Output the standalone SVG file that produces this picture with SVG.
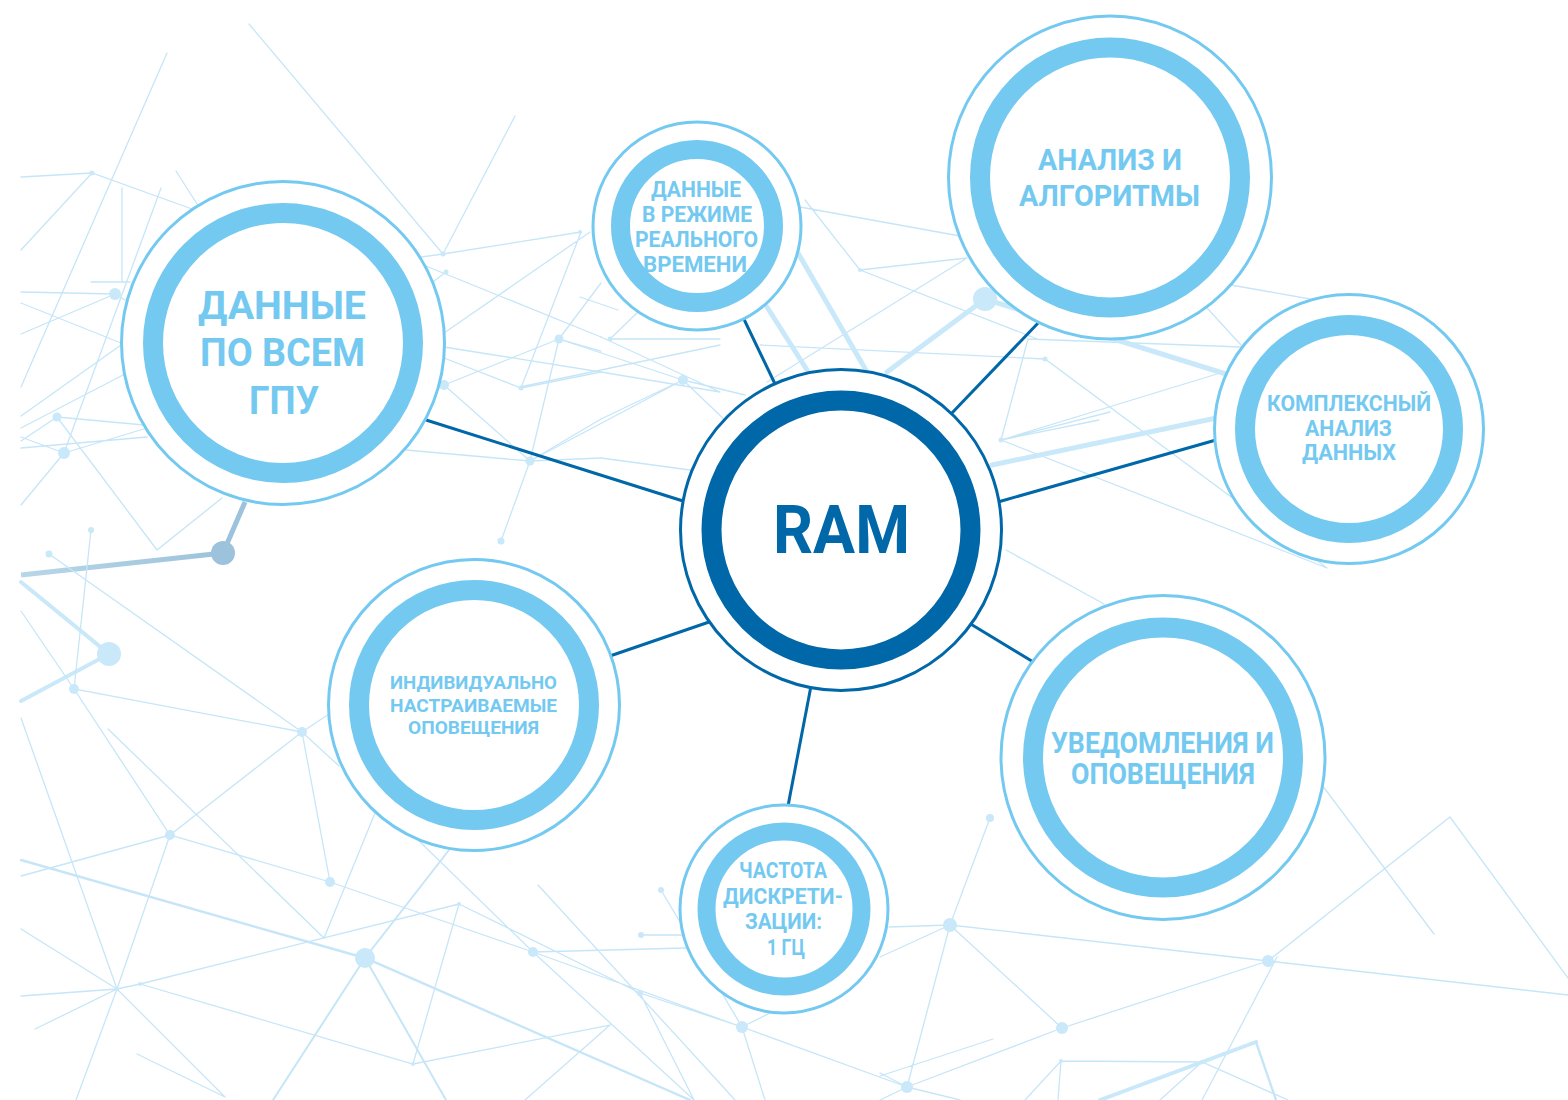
<svg xmlns="http://www.w3.org/2000/svg" width="1568" height="1100" viewBox="0 0 1568 1100">
<defs>
<style>
.bg{stroke:#C6E6F8;stroke-width:1.3;fill:none;stroke-linecap:round}
.bm{stroke:#C6E6F8;stroke-width:2.4;fill:none;stroke-linecap:round}
.bt{stroke:#C9E8F9;stroke-width:5;fill:none;stroke-linecap:round}
.dot{fill:#C9E8F9}
.conn{stroke:#0067A8;stroke-width:3;fill:none}
.outer{fill:#FFFFFF;stroke:#74C9F1;stroke-width:3}
.ring{fill:none;stroke:#74C9F1;stroke-width:20}
.douter{fill:#FFFFFF;stroke:#0067A8;stroke-width:3}
.dring{fill:none;stroke:#0067A8;stroke-width:20}
.lbl{font-family:Roboto,"DejaVu Sans",sans-serif;font-weight:700;fill:#74C9F1;text-anchor:start}
.ram{font-family:Roboto,"DejaVu Sans",sans-serif;font-weight:700;fill:#0067A8;text-anchor:start}
</style>
<linearGradient id="gb" x1="0" y1="0" x2="1" y2="0">
<stop offset="0" stop-color="#B9D6E8"/>
<stop offset="1" stop-color="#9CC3DB"/>
</linearGradient>
</defs>
<rect width="1568" height="1100" fill="#FFFFFF"/>

<g id="background">
<path class="bg" d="M249,24 L443,254 M515,116 L443,254 M443,254 L581,232 M421,257 L443,254"/>
<path class="bg" d="M21,177 L92,173 L192,209 M92,173 L21,250 M167,53 L21,387 M122,188 L122,282 M161,188 L64,453 M176,171 L199,207 M91,282 L130,282"/>
<path class="bg" d="M21,292 L115,294 L21,334 M115,294 L125,300 M21,303 L121,343 M21,416 L121,345 M21,428 L123,375 M57,417 L144,425 M57,417 L157,550 L222,498 M64,453 L147,428 M64,453 L21,505 M21,448 L147,437 M21,437 L64,453 M57,417 L21,441"/>
<path class="bg" d="M421,264 L601,337 M446,272 L421,291 M444,333 L590,232 M444,358 L521,388 L601,372 M444,385 L530,461 M444,385 L559,339 M406,450 L530,461 L601,458 M530,461 L501,541 M530,461 L601,419 M559,339 L601,283 M559,339 L601,351 M559,339 L530,461 M521,388 L581,232 M444,347 L601,372"/>
<path class="bg" d="M601,337 L720,392 M601,372 L720,392 M520,387 L720,345 M530,461 L683,380 M683,380 L745,395 M683,380 L730,425 M559,339 L683,380 M610,339 L720,339 M610,339 L640,310 M580,297 L618,310 M601,419 L683,380 M601,458 L690,470"/>
<path class="bg" d="M800,207 L960,236 M805,200 L860,270 L967,258 M860,270 L1040,340 M767,382 L967,258 M760,345 L1045,359 L1327,568 M1028,339 L1001,440 M1028,339 L1241,347 M1001,440 L1327,568 M1001,440 L1217,374 M1001,440 L1099,420 M1001,440 L1110,412 M1207,308 L1241,345 M1231,285 L1310,299 M1006,550 L1104,604"/>
<path class="bt" d="M798,253 L867,372 M767,307 L807,370 M985,299 L887,372 M985,299 L1226,374 M992,465 L1226,416"/>
<path d="M21,575 L223,553" stroke="url(#gb)" stroke-width="5" fill="none"/>
<path d="M223,553 L245,502" stroke="#9CC3DB" stroke-width="5" fill="none"/>
<path class="bt" style="stroke-width:4" d="M21,582 L109,654 L21,701"/>
<path class="bg" d="M49,554 L302,732 M91,530 L74,689 M21,611 L74,689 L302,732 M74,689 L170,835 L302,732 M302,732 L330,882 M302,732 L329,714 M302,732 L339,766 M21,876 L170,835 L330,882 L533,952 M170,835 L117,989"/>
<path class="bm" d="M21,860 L365,958 L690,1100"/>
<path class="bm" style="stroke-width:2" d="M365,958 L449,850 M365,958 L273,1100 M365,958 L446,1100"/>
<path class="bg" d="M108,729 L324,938 L375,813 M21,718 L117,989 L76,1100 M21,929 L117,989 M21,996 L117,989 M35,1029 L117,989 L225,1097 M137,1054 L225,1097 M117,989 L140,984 L459,904 L413,1064 M140,984 L413,1064 L610,1025 L525,1100 M459,904 L640,993 L742,1027 M533,952 L686,948 M533,952 L416,838 M533,952 L742,1027 M533,952 L694,1100 M538,885 L694,1055 L735,1100 M661,890 L742,1027 M641,935 L686,935 M742,1027 L765,1100 M742,1027 L907,1087 M742,1027 L770,1013 M640,993 L694,1100"/>
<path class="bg" d="M950,925 L990,818 M950,925 L889,927 M950,925 L880,957 M950,925 L1268,961 L1568,995 M950,925 L1062,1028 L1268,961 M950,925 L907,1087 M1062,1028 L907,1087 M1268,961 L1450,817 L1568,978 M1322,785 L1434,934 M1061,1061 L1202,1062 L1288,1100 M1061,1061 L1025,1100 M1061,1061 L1058,1100 M1202,1062 L1160,1100 M1277,957 L1202,1100 M880,1076 L993,1039 M880,1073 L907,1087 M907,1087 L880,1100 M907,1087 L960,1100"/>
<path class="bt" style="stroke-width:4" d="M1256,1042 L1100,1100"/>
<path class="bm" d="M1256,1042 L1276,1100"/>
<g class="dot">
<circle cx="92" cy="173" r="2.5"/><circle cx="115" cy="294" r="6"/><circle cx="57" cy="417" r="4.5"/><circle cx="64" cy="453" r="6"/>
<circle cx="443" cy="254" r="2.5"/><circle cx="446" cy="272" r="2.5"/><circle cx="444" cy="385" r="5"/><circle cx="559" cy="339" r="4.5"/>
<circle cx="521" cy="388" r="2.5"/><circle cx="530" cy="461" r="4.5"/><circle cx="501" cy="541" r="3.5"/><circle cx="683" cy="380" r="5"/>
<circle cx="610" cy="339" r="2.5"/><circle cx="580" cy="232" r="2"/><circle cx="860" cy="270" r="2"/><circle cx="1045" cy="359" r="2.5"/>
<circle cx="1001" cy="440" r="2.5"/><circle cx="985" cy="299" r="12"/><circle cx="49" cy="554" r="3.5"/><circle cx="91" cy="530" r="3"/>
<circle cx="109" cy="654" r="12"/><circle cx="74" cy="689" r="5"/><circle cx="302" cy="732" r="5"/><circle cx="170" cy="835" r="5"/>
<circle cx="330" cy="882" r="5"/><circle cx="365" cy="958" r="10"/><circle cx="533" cy="952" r="5"/><circle cx="742" cy="1027" r="6"/>
<circle cx="640" cy="993" r="3"/><circle cx="661" cy="890" r="3"/><circle cx="641" cy="935" r="3"/><circle cx="117" cy="989" r="2"/>
<circle cx="140" cy="984" r="2"/><circle cx="413" cy="1064" r="2"/><circle cx="459" cy="904" r="2"/><circle cx="950" cy="925" r="7"/>
<circle cx="990" cy="818" r="4"/><circle cx="1062" cy="1028" r="6"/><circle cx="1268" cy="961" r="6"/><circle cx="907" cy="1087" r="6"/>
<circle cx="1061" cy="1061" r="2"/><circle cx="1202" cy="1062" r="2"/>
</g>
<circle cx="223" cy="553" r="12" fill="#9CC3DB"/>
</g>

<g id="connectors">
<line class="conn" x1="426" y1="420" x2="683" y2="501"/>
<line class="conn" x1="741" y1="313" x2="776" y2="386"/>
<line class="conn" x1="1040" y1="321" x2="951" y2="414"/>
<line class="conn" x1="1216" y1="440" x2="998" y2="502"/>
<line class="conn" x1="969" y1="623" x2="1035" y2="663"/>
<line class="conn" x1="811" y1="686" x2="788" y2="806"/>
<line class="conn" x1="607" y1="657" x2="712" y2="621"/>
</g>

<g id="node-ram">
<circle class="douter" cx="841" cy="530" r="160.5"/>
<circle class="dring" cx="841" cy="530" r="129.5"/>
<text class="ram" x="773" y="553" font-size="66" textLength="137" lengthAdjust="spacingAndGlyphs">RAM</text>
</g>

<g id="node-gpu">
<circle class="outer" cx="283" cy="343" r="161.5"/>
<circle class="ring" cx="283" cy="343" r="130"/>
<text class="lbl" font-size="39">
<tspan x="198" y="319" textLength="168" lengthAdjust="spacingAndGlyphs">ДАННЫЕ</tspan>
<tspan x="200" y="366" textLength="165" lengthAdjust="spacingAndGlyphs">ПО ВСЕМ</tspan>
<tspan x="249" y="414" textLength="70" lengthAdjust="spacingAndGlyphs">ГПУ</tspan>
</text>
</g>

<g id="node-realtime">
<circle class="outer" cx="697" cy="226" r="104"/>
<circle class="ring" cx="697" cy="226" r="76.5" style="stroke-width:19"/>
<text class="lbl" font-size="21.5">
<tspan x="651" y="197" textLength="90" lengthAdjust="spacingAndGlyphs">ДАННЫЕ</tspan>
<tspan x="642" y="222" textLength="110" lengthAdjust="spacingAndGlyphs">В РЕЖИМЕ</tspan>
<tspan x="635" y="247" textLength="123" lengthAdjust="spacingAndGlyphs">РЕАЛЬНОГО</tspan>
<tspan x="643" y="272" textLength="104" lengthAdjust="spacingAndGlyphs">ВРЕМЕНИ</tspan>
</text>
</g>

<g id="node-analysis">
<circle class="outer" cx="1110" cy="177.5" r="161.5"/>
<circle class="ring" cx="1110" cy="177.5" r="130"/>
<text class="lbl" font-size="30">
<tspan x="1038" y="170" textLength="144" lengthAdjust="spacingAndGlyphs">АНАЛИЗ И</tspan>
<tspan x="1019" y="206" textLength="181" lengthAdjust="spacingAndGlyphs">АЛГОРИТМЫ</tspan>
</text>
</g>

<g id="node-complex">
<circle class="outer" cx="1349" cy="429" r="134.5"/>
<circle class="ring" cx="1349" cy="429" r="104"/>
<text class="lbl" font-size="22">
<tspan x="1267" y="411" textLength="164" lengthAdjust="spacingAndGlyphs">КОМПЛЕКСНЫЙ</tspan>
<tspan x="1305" y="436" textLength="87" lengthAdjust="spacingAndGlyphs">АНАЛИЗ</tspan>
<tspan x="1302" y="460" textLength="94" lengthAdjust="spacingAndGlyphs">ДАННЫХ</tspan>
</text>
</g>

<g id="node-alerts">
<circle class="outer" cx="1163" cy="757.5" r="162"/>
<circle class="ring" cx="1163" cy="757.5" r="130"/>
<text class="lbl" font-size="29.5">
<tspan x="1051" y="753" textLength="223" lengthAdjust="spacingAndGlyphs">УВЕДОМЛЕНИЯ И</tspan>
<tspan x="1071" y="784" textLength="184" lengthAdjust="spacingAndGlyphs">ОПОВЕЩЕНИЯ</tspan>
</text>
</g>

<g id="node-sampling">
<circle class="outer" cx="784" cy="909" r="104"/>
<circle class="ring" cx="784" cy="909" r="77.5" style="stroke-width:18"/>
<text class="lbl" font-size="21.5">
<tspan x="739" y="878" textLength="88" lengthAdjust="spacingAndGlyphs">ЧАСТОТА</tspan>
<tspan x="723" y="904" textLength="120" lengthAdjust="spacingAndGlyphs">ДИСКРЕТИ-</tspan>
<tspan x="745" y="929" textLength="77" lengthAdjust="spacingAndGlyphs">ЗАЦИИ:</tspan>
<tspan x="767" y="955" textLength="38" lengthAdjust="spacingAndGlyphs">1 ГЦ</tspan>
</text>
</g>

<g id="node-custom">
<circle class="outer" cx="474" cy="705" r="145.5"/>
<circle class="ring" cx="474" cy="705" r="115"/>
<text class="lbl" font-size="18">
<tspan x="390" y="689" textLength="167" lengthAdjust="spacingAndGlyphs">ИНДИВИДУАЛЬНО</tspan>
<tspan x="390" y="712" textLength="167" lengthAdjust="spacingAndGlyphs">НАСТРАИВАЕМЫЕ</tspan>
<tspan x="408" y="734" textLength="131" lengthAdjust="spacingAndGlyphs">ОПОВЕЩЕНИЯ</tspan>
</text>
</g>
</svg>
